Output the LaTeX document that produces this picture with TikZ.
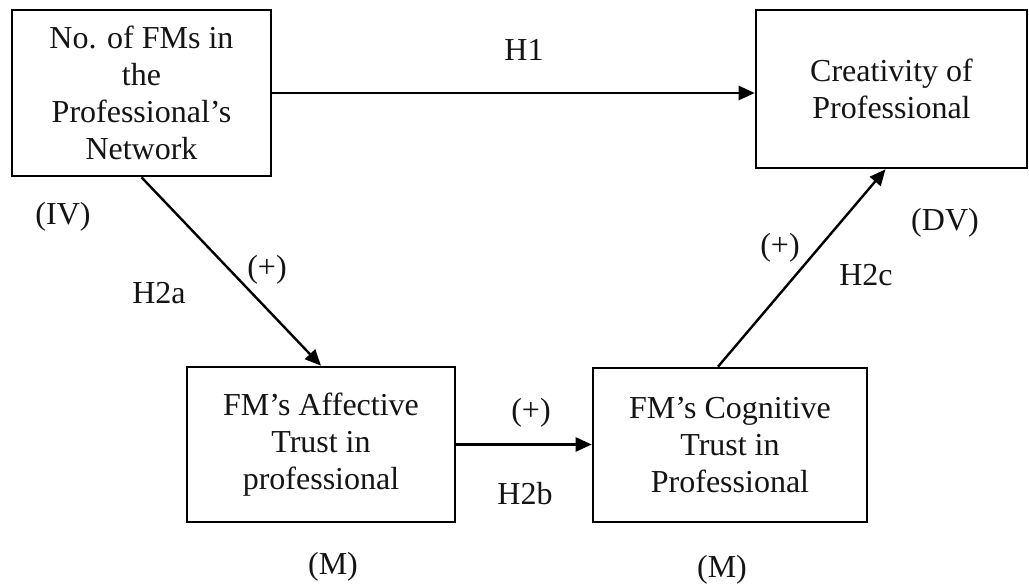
\documentclass[tikz,border=0pt]{standalone}
\usepackage{fontspec}
\setmainfont{Liberation Serif}
\usetikzlibrary{arrows.meta}
\definecolor{linedark}{RGB}{0,0,0}
\definecolor{labeldark}{RGB}{20,20,20}

\begin{document}
\begin{tikzpicture}[x=0.5pt,y=0.5pt,>={Triangle[length=8pt,width=7pt]}]
  % page frame, pixel units of the reference
  \useasboundingbox (0,0) rectangle (1029,586);

  \tikzset{
    varbox/.style={draw=linedark,line width=1.3pt,align=center,inner sep=0pt,
      font=\fontsize{16}{18.5}\selectfont,text=labeldark,
      execute at begin node={\rule{0pt}{18pt}}},
    path/.style={draw=linedark,line width=1.2pt,->},
    tag/.style={font=\fontsize{16}{18.5}\selectfont,text=labeldark}
  }

  % --- Variables ---
  \node[varbox,minimum width=129.5pt,minimum height=83pt] (ivbox) at (141.5,493)
    {No. of FMs in\\the\\Professional's\\Network};
  \node[varbox,minimum width=135.5pt,minimum height=79pt] (dvbox) at (891.5,497)
    {Creativity of\\Professional};
  \node[varbox,minimum width=134pt,minimum height=77.5pt] (affbox) at (321,141.5)
    {FM's Affective\\Trust in\\professional};
  \node[varbox,minimum width=137pt,minimum height=77pt] (cogbox) at (730,141)
    {FM's Cognitive\\Trust in\\Professional};

  % --- Paths ---
  \draw[path] (ivbox.east) -- (ivbox.east -| dvbox.west);
  \draw[path] (ivbox.south) -- (affbox.north);
  \draw[path] (affbox.east) -- (affbox.east -| cogbox.west);
  \draw[path] ([xshift=-6pt]cogbox.north) -- ([xshift=-3pt]dvbox.south);

  % --- Labels ---
  \node[tag] (h1)    at (524,536) {H1};
  \node[tag] (ivtag) at (63,369)  {(IV)};
  \node[tag] (h2a)   at (159,293) {H2a};
  \node[tag] (sa)    at (267,316) {(+)};
  \node[tag] (sb)    at (531,173) {(+)};
  \node[tag] (h2b)   at (525,92)  {H2b};
  \node[tag] (sc)    at (780,338) {(+)};
  \node[tag] (h2c)   at (866,311) {H2c};
  \node[tag] (dvtag) at (945,363) {(DV)};
  \node[tag] (maff)  at (333,19)  {(M)};
  \node[tag] (mcog)  at (722,16)  {(M)};

\end{tikzpicture}
\end{document}
